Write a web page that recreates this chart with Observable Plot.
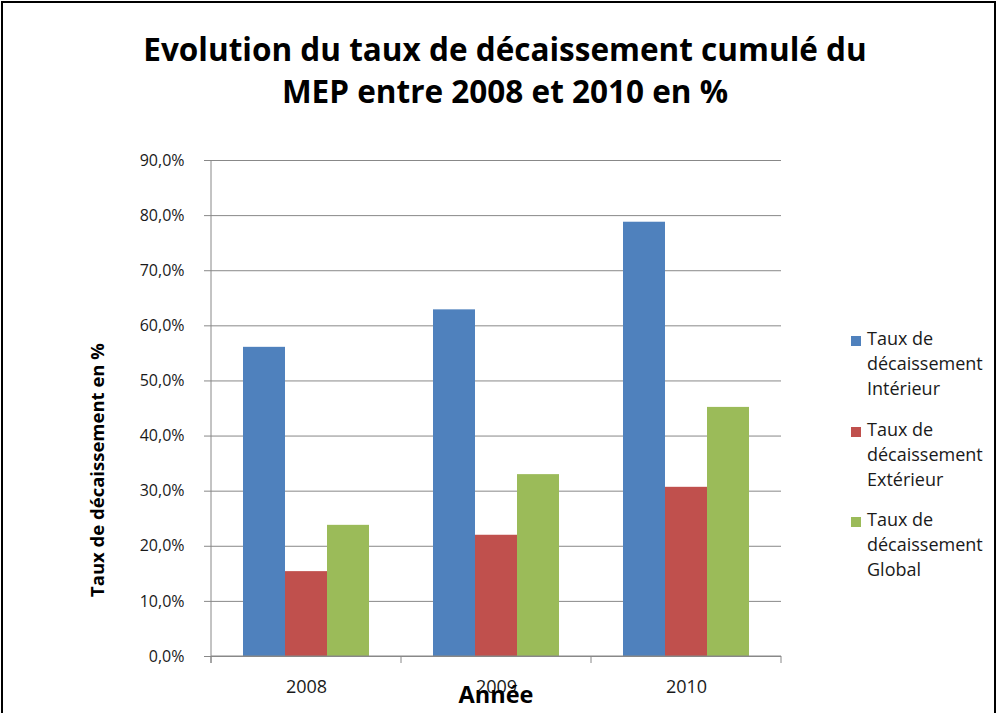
<!DOCTYPE html>
<html><head><meta charset="utf-8">
<script src="https://cdn.jsdelivr.net/npm/d3@7"></script>
<script src="https://cdn.jsdelivr.net/npm/@observablehq/plot@0.6"></script>
<style>
body{margin:0;background:#fff;}
#wrap{position:relative;width:998px;height:713px;overflow:hidden;font-family:"Open Sans",sans-serif;background:#fff;}
#border{position:absolute;left:1px;top:1px;width:995px;height:740px;border:2px solid #000;box-sizing:border-box;pointer-events:none;}
#title{position:absolute;left:12px;width:986px;top:28px;text-align:center;font-weight:700;font-size:31.5px;line-height:42px;color:#000;}
#chart{position:absolute;left:0;top:130px;}
#legend{position:absolute;left:851px;top:326px;font-size:18px;line-height:25px;color:#1a1a1a;}
.item{position:relative;height:90.5px;}
.sw{position:absolute;left:0;top:10px;width:10px;height:10px;}
.lab{position:absolute;left:16px;top:0;white-space:nowrap;}
#chart [aria-label="fx-axis tick label"] text{font-size:18px;}
#chart [aria-label="y-axis tick"] path,#chart [aria-label="y-axis tick"] line{stroke:#888;}
</style>
</head><body>
<div id="wrap">
  <div id="title">Evolution du taux de décaissement cumulé du<br>MEP entre 2008 et 2010 en %</div>
  <div id="chart"></div>
  <div id="legend"></div>
  <div id="border"></div>
</div>
<script>
const years = ["2008", "2009", "2010"];
const seriesKeys = ["Intérieur", "Extérieur", "Global"];
const seriesLabels = [
  ["Taux de", "décaissement", "Intérieur"],
  ["Taux de", "décaissement", "Extérieur"],
  ["Taux de", "décaissement", "Global"]
];
const interieur = [56.1, 62.9, 78.8];
const exterieur = [15.4, 22.0, 30.7];
const global = [23.8, 33.0, 45.2];
const colors = ["#4F81BD", "#C0504D", "#9BBB59"];
const yTicks = [0, 10, 20, 30, 40, 50, 60, 70, 80, 90];
const yTitle = "Taux de décaissement en %";
const xTitle = "Année";

const valuesBySeries = [interieur, exterieur, global];
const data = years.flatMap((yr, i) => seriesKeys.map((s, j) => ({year: yr, serie: s, value: valuesBySeries[j][i]})));

const W = 998, H = 583, mL = 210, mR = 217, mT = 30, mB = 57;

const plot = Plot.plot({
  width: W, height: H,
  marginLeft: mL, marginRight: mR, marginTop: mT, marginBottom: mB,
  style: {fontFamily: "Open Sans", fontSize: "16px", color: "#1a1a1a", background: "transparent", overflow: "visible"},
  fx: {domain: years, padding: 0, axis: "bottom", tickSize: 0, tickPadding: 24, label: null},
  x: {domain: seriesKeys, paddingInner: 0, paddingOuter: 0.75, axis: null},
  y: {domain: [0, 90], ticks: yTicks, tickFormat: d => d.toFixed(1).replace(".", ",") + "%", tickSize: 7, tickPadding: 20, label: null},
  color: {domain: seriesKeys, range: colors},
  marks: [
    Plot.ruleY(yTicks, {stroke: "#888", strokeWidth: 1}),
    Plot.barY(data, {fx: "year", x: "serie", y: "value", fill: "serie", inset: 0})
  ]
});

document.getElementById("chart").appendChild(plot);

// axis lines and category boundary ticks
const svg = d3.select(plot);
const fx = plot.scale("fx");
const ys = plot.scale("y");
const y0 = ys.apply(0), y90 = ys.apply(90);
const bounds = years.map(yr => fx.apply(yr));
bounds.push(fx.apply(years[years.length - 1]) + fx.bandwidth);
const g = svg.append("g").attr("stroke", "#888").attr("stroke-width", 1);
g.append("line").attr("x1", bounds[0]).attr("x2", bounds[0]).attr("y1", y90).attr("y2", y0 + 7);
g.append("line").attr("x1", bounds[0]).attr("x2", bounds[bounds.length - 1]).attr("y1", y0).attr("y2", y0);
bounds.forEach(b => g.append("line").attr("x1", b).attr("x2", b).attr("y1", y0).attr("y2", y0 + 7));

// axis titles
svg.append("text").attr("transform", `translate(104,${470 - 130}) rotate(-90)`)
  .attr("text-anchor", "middle").attr("font-weight", 700).attr("font-size", 18.5)
  .attr("fill", "#000").text(yTitle);
svg.append("text").attr("x", (bounds[0] + bounds[bounds.length - 1]) / 2).attr("y", 703 - 130)
  .attr("text-anchor", "middle").attr("font-weight", 700).attr("font-size", 23.5)
  .attr("fill", "#000").text(xTitle);

// legend
const leg = document.getElementById("legend");
seriesKeys.forEach((s, i) => {
  const item = document.createElement("div"); item.className = "item";
  const sw = document.createElement("div"); sw.className = "sw"; sw.style.background = plot.scale("color").apply(s);
  const lab = document.createElement("div"); lab.className = "lab"; lab.innerHTML = seriesLabels[i].join("<br>");
  item.appendChild(sw); item.appendChild(lab); leg.appendChild(item);
});
</script>
</body></html>
